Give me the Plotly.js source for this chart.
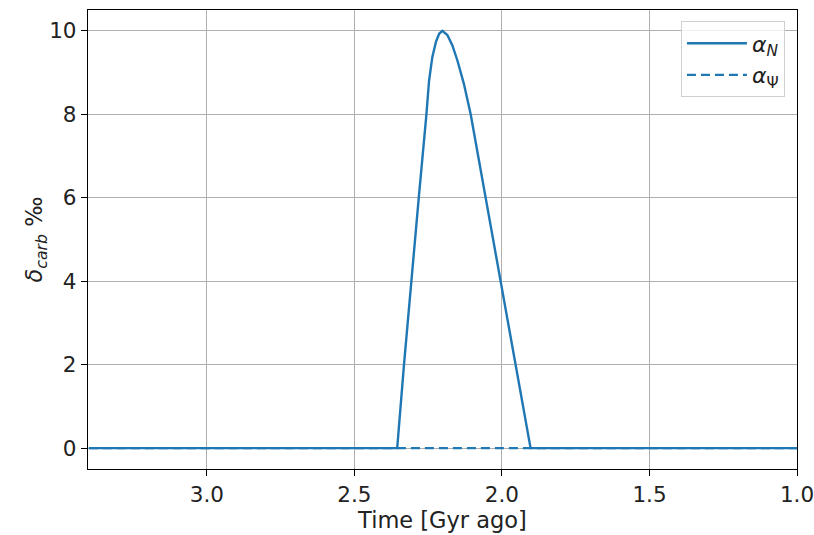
<!DOCTYPE html>
<html>
<head>
<meta charset="utf-8">
<script src="https://cdn.plot.ly/plotly-3.0.1.min.js"></script>
<style>html,body{margin:0;padding:0;background:#fff;}#chart{width:814px;height:535px;}</style>
</head>
<body>
<div id="chart"></div>
<script>
// Time [Gyr ago]
var timeN = [3.4, 2.355, 2.332, 2.308, 2.282, 2.256, 2.247, 2.236, 2.224, 2.213, 2.202, 2.185, 2.168, 2.151, 2.129, 2.106, 2.055, 2.004, 1.954, 1.903, 1.0];
var alphaN = [0, 0, 2, 4, 6, 8, 8.81, 9.37, 9.73, 9.93, 10.0, 9.9, 9.65, 9.29, 8.73, 8, 6, 4, 2, 0, 0];
var timePsi = [3.4, 1.0];
var alphaPsi = [0, 0];
var xTicks = [3.0, 2.5, 2.0, 1.5, 1.0];
var yTicks = [0, 2, 4, 6, 8, 10];

var traces = [
  {x: timeN, y: alphaN, mode: 'lines', name: '<i>α</i><sub><i>N</i></sub>',
   line: {color: '#1f77b4', width: 2.4}},
  {x: timePsi, y: alphaPsi, mode: 'lines', name: '<i>α</i><sub>Ψ</sub>',
   line: {color: '#1f77b4', width: 2.4, dash: '9px,5px'}}
];
var layout = {
  width: 814, height: 535,
  margin: {l: 88, r: 17, t: 10, b: 66},
  paper_bgcolor: '#fff', plot_bgcolor: '#fff',
  font: {family: 'DejaVu Sans', size: 21.5, color: '#222'},
  showlegend: true,
  legend: {x: 0.983, xanchor: 'right', y: 0.975, yanchor: 'top',
           bgcolor: 'rgba(255,255,255,0.8)', bordercolor: '#d0d0d0', borderwidth: 1,
           font: {size: 22}, tracegroupgap: 4, itemwidth: 60},
  xaxis: {range: [3.403, 1.0], tickvals: xTicks, ticktext: xTicks.map(function(v){return v.toFixed(1);}),
          ticklabeloverflow: 'allow',
          showgrid: true, gridcolor: '#b0b0b0', gridwidth: 1,
          showline: true, linecolor: '#000', linewidth: 1.2, mirror: true,
          ticks: 'outside', ticklen: 6, tickcolor: '#000', zeroline: false,
          title: {text: 'Time [Gyr ago]', font: {size: 22.5}, standoff: 4}},
  yaxis: {range: [-0.5, 10.5], tickvals: yTicks,
          showgrid: true, gridcolor: '#b0b0b0', gridwidth: 1,
          showline: true, linecolor: '#000', linewidth: 1.2, mirror: true,
          ticks: 'outside', ticklen: 6, tickcolor: '#000', zeroline: false,
          title: {text: '<i>δ</i><sub><i>carb</i></sub> ‰', font: {size: 22.5}, standoff: 0}}
};
Plotly.newPlot('chart', traces, layout, {displayModeBar: false, staticPlot: true});
</script>
</body>
</html>
